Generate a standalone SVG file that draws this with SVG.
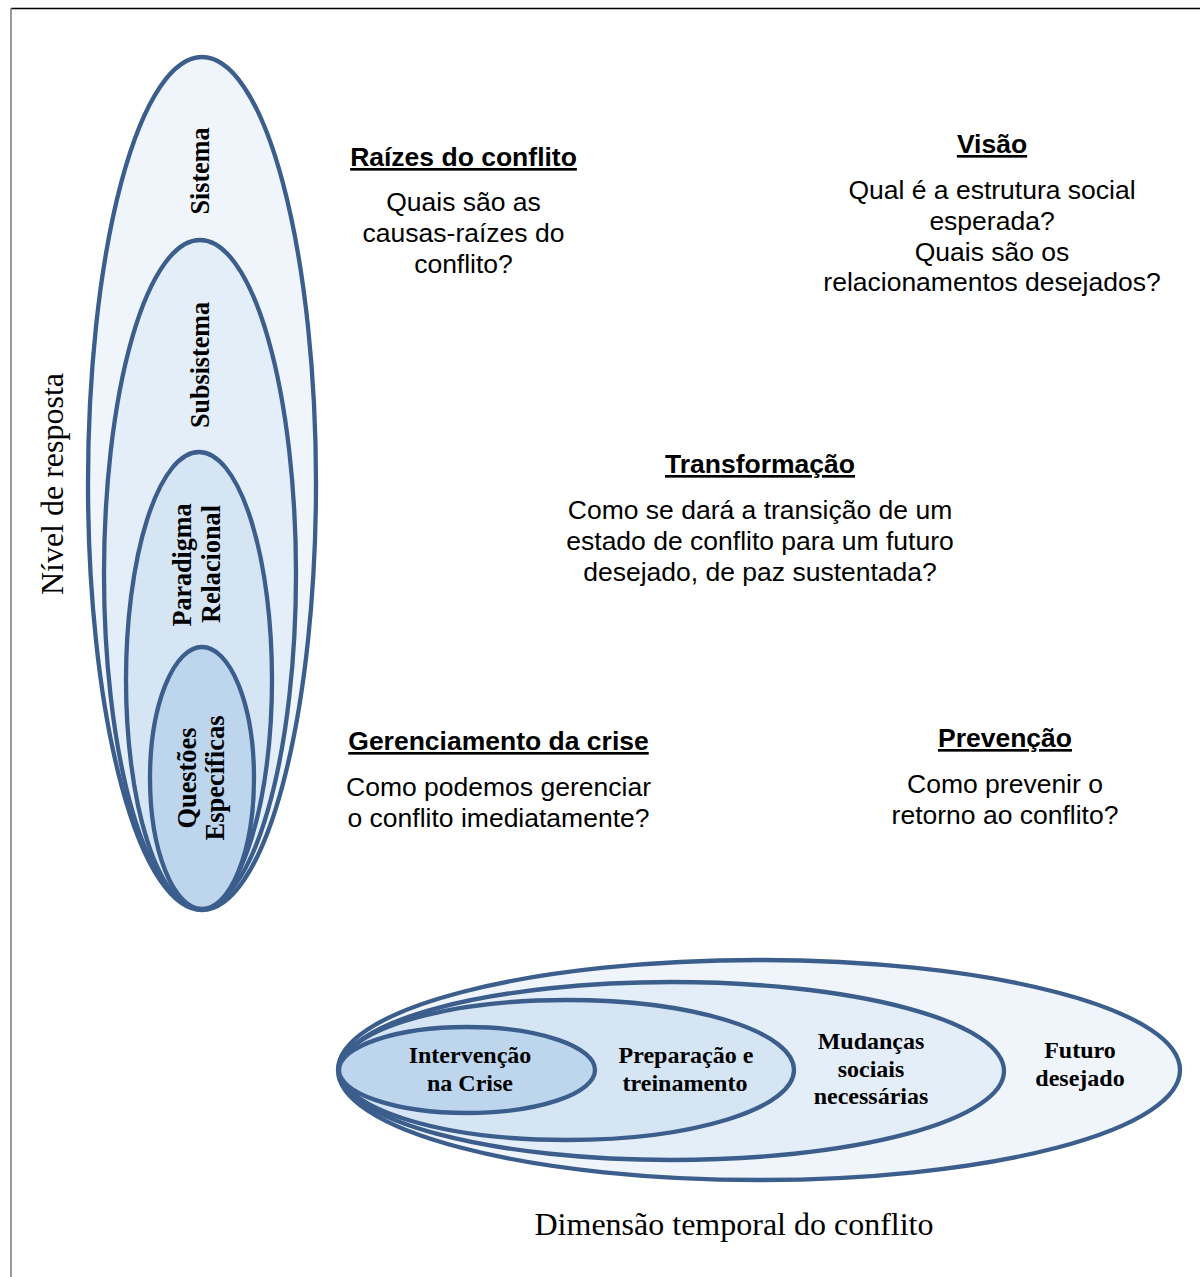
<svg xmlns="http://www.w3.org/2000/svg" width="1200" height="1277" viewBox="0 0 1200 1277">
<style>
.e{stroke:#3B5E8C;stroke-width:4.3}
.f1{fill:#F0F5FB}.f2{fill:#E4EEF8}.f3{fill:#D5E5F4}.f4{fill:#BDD6EE}
.lb{font-family:"Liberation Serif",serif;font-weight:bold;font-size:24px;fill:#000;text-anchor:middle}
.lv{font-family:"Liberation Serif",serif;font-weight:bold;font-size:27px;fill:#000;text-anchor:middle}
.ax{font-family:"Liberation Serif",serif;font-size:32px;fill:#000;text-anchor:middle}
.h{font-family:"Liberation Sans",Arial,sans-serif;font-weight:bold;font-size:26.5px;fill:#000;text-anchor:middle;text-decoration:underline}
.t{font-family:"Liberation Sans",Arial,sans-serif;font-size:26.5px;fill:#000;text-anchor:middle}
</style>
<rect width="1200" height="1277" fill="#fff"/>
<line x1="11" y1="8.5" x2="1200" y2="8.5" stroke="#000" stroke-width="1.5"/>
<line x1="11" y1="8" x2="11" y2="1277" stroke="#777" stroke-width="1.5"/>

<g id="vertical-levels">
  <g id="sistema">
    <ellipse class="e f1" cx="202" cy="483.5" rx="114" ry="426.5"/>
    <text class="lv" transform="translate(209,171) rotate(-90)" textLength="87" lengthAdjust="spacingAndGlyphs">Sistema</text>
  </g>
  <g id="subsistema">
    <ellipse class="e f2" cx="200" cy="574" rx="96" ry="334"/>
    <text class="lv" transform="translate(209,365) rotate(-90)" textLength="126" lengthAdjust="spacingAndGlyphs">Subsistema</text>
  </g>
  <g id="paradigma">
    <ellipse class="e f3" cx="199" cy="680" rx="73" ry="228"/>
    <text class="lv" transform="translate(191,565) rotate(-90)" textLength="123" lengthAdjust="spacingAndGlyphs">Paradigma</text>
    <text class="lv" transform="translate(220,564) rotate(-90)" textLength="118" lengthAdjust="spacingAndGlyphs">Relacional</text>
  </g>
  <g id="questoes">
    <ellipse class="e f4" cx="202" cy="778" rx="52" ry="131"/>
    <text class="lv" transform="translate(196,778) rotate(-90)" textLength="101" lengthAdjust="spacingAndGlyphs">Questões</text>
    <text class="lv" transform="translate(224,778) rotate(-90)" textLength="125" lengthAdjust="spacingAndGlyphs">Específicas</text>
  </g>
</g>

<g id="horizontal-levels">
  <g id="futuro">
    <ellipse class="e f1" cx="759" cy="1070" rx="421" ry="110"/>
    <text class="lb" x="1080" y="1058">Futuro</text>
    <text class="lb" x="1080" y="1086">desejado</text>
  </g>
  <g id="mudancas">
    <ellipse class="e f2" cx="672" cy="1071" rx="332" ry="89"/>
    <text class="lb" x="871" y="1049">Mudanças</text>
    <text class="lb" x="871" y="1077">sociais</text>
    <text class="lb" x="871" y="1104">necessárias</text>
  </g>
  <g id="preparacao">
    <ellipse class="e f3" cx="567" cy="1070" rx="227" ry="70"/>
    <text class="lb" x="686" y="1063">Preparação e</text>
    <text class="lb" x="685" y="1091">treinamento</text>
  </g>
  <g id="intervencao">
    <ellipse class="e f4" cx="467" cy="1070" rx="128" ry="43"/>
    <text class="lb" x="470" y="1063">Intervenção</text>
    <text class="lb" x="470" y="1091">na Crise</text>
  </g>
</g>

<g id="axes">
  <text class="ax" transform="translate(63,484) rotate(-90)">Nível de resposta</text>
  <text class="ax" x="734" y="1235">Dimensão temporal do conflito</text>
</g>

<g id="raizes">
  <text class="h" x="463.5" y="166">Raízes do conflito</text>
  <text class="t" x="463.5" y="211">Quais são as</text>
  <text class="t" x="463.5" y="242">causas-raízes do</text>
  <text class="t" x="463.5" y="273">conflito?</text>
</g>
<g id="visao">
  <text class="h" x="992" y="153">Visão</text>
  <text class="t" x="992" y="199">Qual é a estrutura social</text>
  <text class="t" x="992" y="230">esperada?</text>
  <text class="t" x="992" y="261">Quais são os</text>
  <text class="t" x="992" y="291">relacionamentos desejados?</text>
</g>
<g id="transformacao">
  <text class="h" x="760" y="473">Transformação</text>
  <text class="t" x="760" y="519">Como se dará a transição de um</text>
  <text class="t" x="760" y="550">estado de conflito para um futuro</text>
  <text class="t" x="760" y="581">desejado, de paz sustentada?</text>
</g>
<g id="gerenciamento">
  <text class="h" x="498.5" y="750">Gerenciamento da crise</text>
  <text class="t" x="498.5" y="796">Como podemos gerenciar</text>
  <text class="t" x="498.5" y="827">o conflito imediatamente?</text>
</g>
<g id="prevencao">
  <text class="h" x="1005" y="747">Prevenção</text>
  <text class="t" x="1005" y="793">Como prevenir o</text>
  <text class="t" x="1005" y="824">retorno ao conflito?</text>
</g>
<g id="connectors"></g>
</svg>
